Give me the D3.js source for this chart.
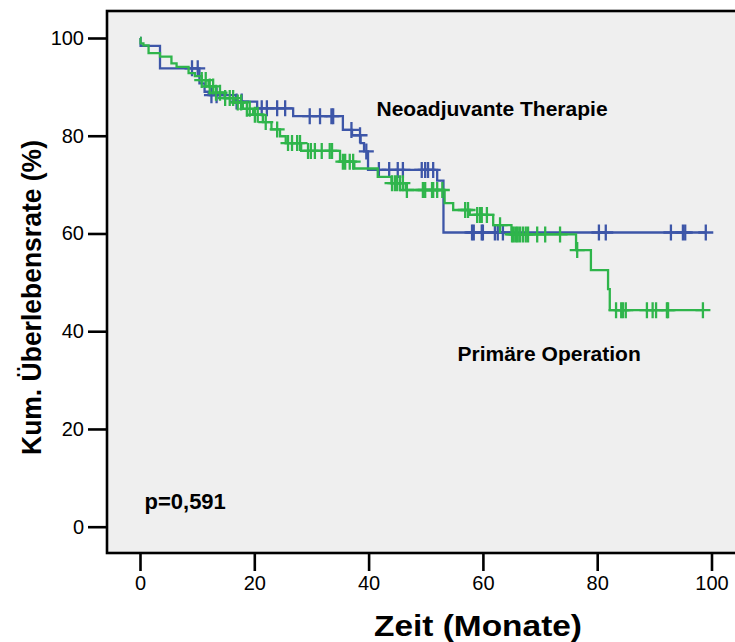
<!DOCTYPE html>
<html>
<head>
<meta charset="utf-8">
<script src="https://cdn.jsdelivr.net/npm/d3@7"></script>
<style>
  html, body { margin: 0; padding: 0; background: #ffffff; }
  svg { display: block; font-family: "Liberation Sans", Arial, Helvetica, sans-serif; }
</style>
</head>
<body>
<svg id="chart" width="735" height="642"></svg>
<script>
// Kaplan-Meier survival estimates: [month, cumulative survival %] at each event
const neoEvents = [
  [0.1, 98.4], [3.5, 93.8], [10.4, 90.7], [11.3, 89.0], [12.0, 88.3],
  [16.8, 87.0], [20.5, 85.6], [26.8, 84.0], [35.5, 81.2], [37.1, 80.1],
  [38.6, 78.5], [39.2, 76.8], [39.9, 73.0], [52.0, 70.8], [53.1, 60.2]
];
// censored observations (months)
const neoCensored = [
  9.1, 10.1, 12.5, 13.4, 16.9, 17.8, 21.3, 22.2, 24.0, 25.4, 29.7, 31.5,
  33.5, 33.8, 37.0, 38.5, 39.6, 41.8, 43.6, 45.1, 46.0, 49.3, 49.9, 50.4,
  51.3, 58.1, 58.4, 59.8, 60.0, 62.1, 62.6, 63.5, 80.3, 81.5, 92.9, 95.0,
  95.4, 99.0
];

const opEvents = [
  [0.1, 98.9], [0.6, 98.5], [1.5, 96.9], [3.5, 96.2], [5.5, 94.8],
  [6.4, 94.1], [8.5, 92.8], [9.6, 92.2], [10.8, 91.4], [12.0, 90.1],
  [13.3, 88.8], [14.8, 87.7], [16.5, 86.8], [18.0, 85.5], [19.8, 84.3],
  [21.5, 82.8], [23.0, 81.3], [24.5, 79.9], [25.5, 78.5], [28.2, 76.9],
  [35.0, 74.7], [37.5, 73.3], [41.6, 71.6], [44.0, 70.3], [46.5, 68.9],
  [53.3, 66.2], [54.8, 64.8], [57.7, 63.8], [61.8, 61.7], [65.0, 59.8],
  [76.3, 56.6], [78.9, 52.5], [81.9, 48.6], [82.2, 44.3]
];
const opCensored = [
  10.8, 11.5, 12.2, 12.8, 13.3, 14.0, 14.9, 15.7, 16.3, 17.1, 17.7, 18.7,
  19.2, 20.1, 20.6, 22.0, 24.0, 25.9, 26.6, 27.5, 28.0, 29.4, 29.9, 30.6,
  31.8, 33.2, 33.6, 35.5, 35.9, 36.7, 37.3, 44.1, 44.6, 45.0, 45.5, 46.0,
  46.7, 49.5, 49.9, 51.1, 51.3, 52.0, 52.9, 56.9, 57.4, 59.0, 59.5, 59.8,
  60.7, 63.0, 65.1, 65.4, 65.8, 66.1, 66.5, 67.0, 67.5, 67.9, 69.5, 70.9,
  73.5, 76.5, 83.3, 84.2, 84.5, 85.0, 88.7, 89.7, 90.3, 92.2, 92.4, 98.5
];

const xTicks = [0, 20, 40, 60, 80, 100];
const yTicks = [0, 20, 40, 60, 80, 100];

const groups = [
  { name: "Neoadjuvante Therapie", events: neoEvents, censored: neoCensored, color: "#3d56a8" },
  { name: "Primäre Operation", events: opEvents, censored: opCensored, color: "#2fb54b" }
];

const svg = d3.select("#chart");

// plot frame (runs off the right edge of the canvas)
const frame = { left: 107, top: 11, right: 860, bottom: 553 };

const x = d3.scaleLinear().domain([0, 100]).range([140, 711.5]);
const y = d3.scaleLinear().domain([0, 100]).range([526.7, 38]);

svg.append("rect")
  .attr("x", frame.left).attr("y", frame.top)
  .attr("width", frame.right - frame.left).attr("height", frame.bottom - frame.top)
  .attr("fill", "#efefef")
  .attr("stroke", "#000").attr("stroke-width", 2.6);

// axes
const yAxis = svg.append("g")
  .attr("transform", `translate(${frame.left},0)`)
  .call(d3.axisLeft(y).tickValues(yTicks).tickSize(19).tickSizeOuter(0).tickPadding(4));
const xAxis = svg.append("g")
  .attr("transform", `translate(0,${frame.bottom})`)
  .call(d3.axisBottom(x).tickValues(xTicks).tickSize(18).tickSizeOuter(0).tickPadding(5));

[yAxis, xAxis].forEach(g => {
  g.select(".domain").remove();
  g.selectAll(".tick line").attr("stroke", "#000").attr("stroke-width", 2.6);
  g.selectAll(".tick text")
    .attr("fill", "#000")
    .style("font-family", '"Liberation Sans", Arial, sans-serif')
    .style("font-size", "20px");
});

// survival step curves and censor crosses
const stepLine = d3.line().x(d => x(d[0])).y(d => y(d[1])).curve(d3.curveStepAfter);

function survivalAt(events, t) {
  let s = 100;
  for (const [et, es] of events) { if (et <= t) s = es; else break; }
  return s;
}

groups.forEach(g => {
  const lastT = d3.max(g.censored.concat(g.events.map(e => e[0])));
  const pts = [[0, 100], ...g.events, [lastT, g.events[g.events.length - 1][1]]];
  svg.append("path")
    .attr("d", stepLine(pts))
    .attr("fill", "none")
    .attr("stroke", g.color)
    .attr("stroke-width", 2.3);

  svg.append("g").selectAll("path")
    .data(g.censored)
    .join("path")
    .attr("d", t => {
      const cx = x(t), cy = y(survivalAt(g.events, t));
      return `M${cx - 7.5},${cy}H${cx + 7.5}M${cx},${cy - 8}V${cy + 8}`;
    })
    .attr("fill", "none")
    .attr("stroke", g.color)
    .attr("stroke-width", 2.3);
});

// annotations
svg.append("text")
  .attr("x", 376.5).attr("y", 115.5)
  .attr("font-size", 21).attr("font-weight", "bold")
  .text("Neoadjuvante Therapie");
svg.append("text")
  .attr("x", 457.5).attr("y", 360.5)
  .attr("font-size", 21).attr("font-weight", "bold")
  .text("Primäre Operation");
svg.append("text")
  .attr("x", 144.5).attr("y", 509)
  .attr("font-size", 22).attr("font-weight", "bold")
  .text("p=0,591");

// axis titles
svg.append("text")
  .attr("x", 478).attr("y", 636)
  .attr("text-anchor", "middle")
  .attr("font-size", 30).attr("font-weight", "bold")
  .attr("textLength", 208).attr("lengthAdjust", "spacingAndGlyphs")
  .text("Zeit (Monate)");
svg.append("text")
  .attr("transform", "translate(41,297.5) rotate(-90)")
  .attr("text-anchor", "middle")
  .attr("font-size", 28).attr("font-weight", "bold")
  .attr("textLength", 315).attr("lengthAdjust", "spacingAndGlyphs")
  .text("Kum. Überlebensrate (%)");
</script>
</body>
</html>
